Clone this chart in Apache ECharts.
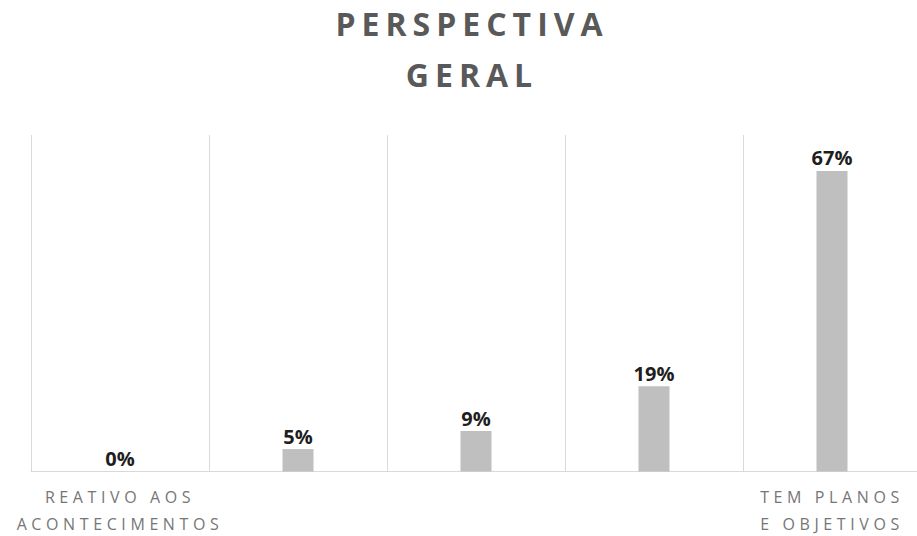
<!DOCTYPE html>
<html>
<head>
<meta charset="utf-8">
<script src="https://cdn.jsdelivr.net/npm/echarts@6/dist/echarts.min.js"></script>
<style>
html,body{margin:0;padding:0;background:#fff;}
#c{width:917px;height:536px;}
#c text[fill="#595959"]{letter-spacing:6px;}
#c text[fill="#767676"]{letter-spacing:4.6px;}
</style>
</head>
<body>
<div id="c"></div>
<script>
const titleText = "PERSPECTIVA\nGERAL";
const categories = ["REATIVO AOS\nACONTECIMENTOS", "", "", "", "TEM PLANOS\nE OBJETIVOS"];
const values = [0, 5, 9, 19, 67];
const valueLabels = ["0%", "5%", "9%", "19%", "67%"];

const chart = echarts.init(document.getElementById('c'), null, {renderer: 'svg'});
chart.setOption({
  animation: false,
  title: {
    text: titleText,
    left: 472, top: -2, padding: 0, textAlign: 'center',
    textStyle: {fontFamily: 'Open Sans', fontWeight: 'bold', fontSize: 32, color: '#595959', lineHeight: 51}
  },
  grid: {left: 31, top: 135, width: 890, height: 336.5, containLabel: false, outerBoundsMode: 'none'},
  xAxis: {
    type: 'category',
    data: categories,
    boundaryGap: true,
    axisLine: {show: true, lineStyle: {color: '#d9d9d9', width: 1}},
    axisTick: {show: false},
    splitLine: {show: true, lineStyle: {color: '#d9d9d9', width: 1}},
    axisLabel: {
      interval: 0,
      margin: 12,
      color: '#767676',
      fontFamily: 'Open Sans',
      fontSize: 16,
      lineHeight: 27
    }
  },
  yAxis: {
    type: 'value', min: 0, max: 75,
    show: false,
    splitLine: {show: false}
  },
  series: [{
    type: 'bar',
    data: values,
    barWidth: 31,
    itemStyle: {color: '#bfbfbf'},
    label: {
      show: true, position: 'top', distance: 3,
      formatter: p => valueLabels[p.dataIndex],
      color: '#1e1e1e', fontFamily: 'Open Sans', fontWeight: 'bold', fontSize: 20
    }
  }]
});
</script>
</body>
</html>
